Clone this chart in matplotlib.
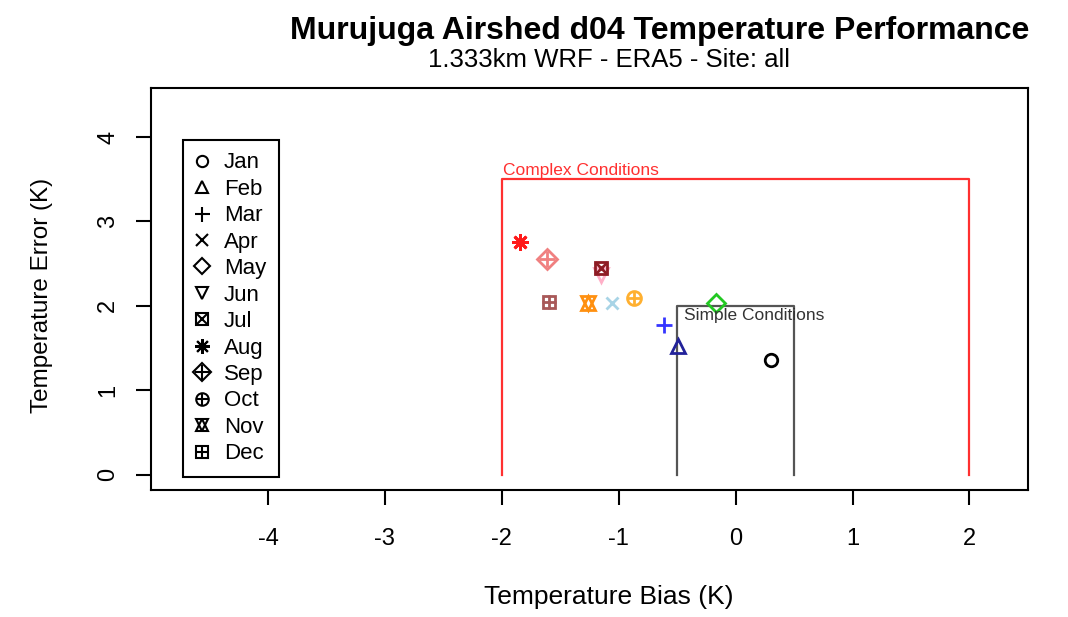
import matplotlib
matplotlib.use("Agg")
import matplotlib.pyplot as plt
from matplotlib.lines import Line2D
from matplotlib.legend_handler import HandlerTuple

plt.rcParams["font.family"] = ["Liberation Sans", "DejaVu Sans"]
plt.rcParams["axes.unicode_minus"] = False

# -----
# DATA
# -----
months = ["Jan", "Feb", "Mar", "Apr", "May", "Jun", "Jul", "Aug", "Sep", "Oct", "Nov", "Dec"]
bias = [0.30, -0.49, -0.61, -1.06, -0.17, -1.15, -1.15, -1.84, -1.61, -0.87, -1.26, -1.60]
error = [1.36, 1.52, 1.77, 2.04, 2.04, 2.36, 2.45, 2.76, 2.56, 2.09, 2.04, 2.05]
colors = ["black", "#22229a", "#3535ff", "#a8d4e6", "#22c822", "#ffb0c8",
          "#8e1c24", "#ff1a1a", "#f08080", "#ffb030", "#ff9010", "#a85858"]

complex_box = {"x": [-2, -2, 2, 2], "y": [0, 3.5, 3.5, 0]}
simple_box = {"x": [-0.5, -0.5, 0.5, 0.5], "y": [0, 2, 2, 0]}

# R pch symbols built from overlaid matplotlib markers
symbols = [
    [("o", 9)],
    [("^", 10)],
    [("+", 12)],
    [("x", 9)],
    [("D", 9)],
    [("v", 10)],
    [("s", 9), ("x", 8)],
    [((8, 2, 0), 12)],
    [("D", 10), ("+", 12)],
    [("o", 10), ("+", 9)],
    [("^", 10), ("v", 10)],
    [("s", 9), ("+", 10)],
]

# -----
# PLOT
# -----
fig = plt.figure(figsize=(10.68, 6.17), dpi=100)
ax = fig.add_axes([0.1414, 0.2058, 0.8211, 0.6516])

ax.plot(complex_box["x"], complex_box["y"], color="#ff3030", linewidth=1.6)
ax.plot(simple_box["x"], simple_box["y"], color="#555555", linewidth=1.6)
ax.text(-1.99, 3.52, "Complex Conditions", color="#ff3030", fontsize=12.5, va="bottom", ha="left")
ax.text(-0.44, 1.89, "Simple Conditions", color="#333333", fontsize=12.5, va="center", ha="left")

handles = []
for i, m in enumerate(months):
    parts = []
    for mk, ms in symbols[i]:
        ax.plot(bias[i], error[i], linestyle="none", marker=mk, markersize=ms,
                markerfacecolor="none", markeredgecolor=colors[i], markeredgewidth=2)
        parts.append(Line2D([], [], linestyle="none", marker=mk, markersize=ms * 0.9,
                            markerfacecolor="none", markeredgecolor="black", markeredgewidth=1.5))
    handles.append(tuple(parts))

leg = ax.legend(handles, months, handler_map={tuple: HandlerTuple(ndivide=1, pad=0)},
                loc="upper left", bbox_to_anchor=(0.0365, 0.87), fontsize=16,
                frameon=True, fancybox=False, edgecolor="black", framealpha=1,
                labelspacing=0.245, handlelength=0.6, handletextpad=0.7, borderpad=0.55,
                borderaxespad=0)
leg.get_frame().set_linewidth(1.5)

ax.set_xlim(-5.0, 2.5)
ax.set_ylim(-0.18, 4.58)
ax.set_xticks([-4, -3, -2, -1, 0, 1, 2])
ax.set_yticks([0, 1, 2, 3, 4])
ax.tick_params(axis="both", labelsize=17, length=11, width=1.5, direction="out")
ax.tick_params(axis="x", pad=16)
ax.tick_params(axis="y", pad=12, labelrotation=90)
for label in ax.get_yticklabels():
    label.set_va("center")
for s in ax.spines.values():
    s.set_linewidth(1.5)

ax.set_xlabel("Temperature Bias (K)", fontsize=19)
ax.xaxis.set_label_coords(0.522, -0.237)
ax.set_ylabel("Temperature Error (K)", fontsize=17.5)
ax.yaxis.set_label_coords(-0.112, 0.485)

fig.text(0.618, 0.949, "Murujuga Airshed d04 Temperature Performance",
         fontsize=23, fontweight="bold", ha="center", va="center")
fig.text(0.57, 0.903, "1.333km WRF - ERA5 - Site: all", fontsize=18.5, ha="center", va="center")

plt.savefig("out.png", dpi=100)
plt.close()
